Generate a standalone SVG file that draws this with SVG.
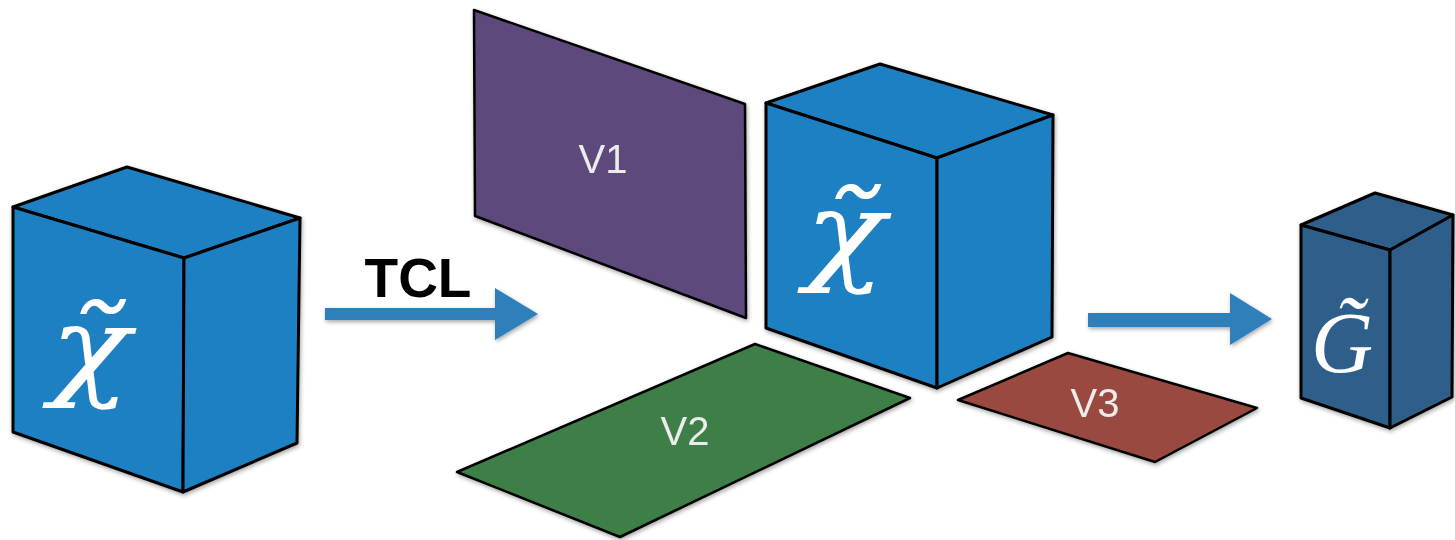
<svg xmlns="http://www.w3.org/2000/svg" width="1455" height="540" viewBox="0 0 1455 540">
  <defs>
    <filter id="sh" x="-10%" y="-10%" width="130%" height="130%">
      <feDropShadow dx="1" dy="2" stdDeviation="2" flood-color="#000" flood-opacity="0.35"/>
    </filter>
    <style>
      .cube { fill: #1f80c2; stroke: #000; stroke-width: 3; stroke-linejoin: round; }
      .cubeD { fill: #2e5f8b; stroke: #000; stroke-width: 3; stroke-linejoin: round; }
      .plane { stroke: #000; stroke-width: 2.5; stroke-linejoin: round; }
      .arrow { fill: #2f7fba; }
      .math { font-family: "Liberation Serif", "DejaVu Serif", serif; font-style: italic; fill: #fff; text-anchor: middle; }
      .chi { font-family: "DejaVu Serif", serif; font-style: italic; fill: #fff; text-anchor: middle; }
      .vlab { font-family: "Liberation Sans", Arial, sans-serif; font-size: 40px; fill: #ececec; text-anchor: middle; }
      .tcl { font-family: "Liberation Sans", Arial, sans-serif; font-size: 55px; font-weight: bold; fill: #000; text-anchor: middle; }
    </style>
  </defs>
  <rect width="1455" height="540" fill="#fff"/>

  <g id="cube-left" filter="url(#sh)">
    <polygon class="cube" points="13,207 127,167 300,218 184,258"/>
    <polygon class="cube" points="13,207 184,258 183,492 13,432"/>
    <polygon class="cube" points="184,258 300,218 297,443 183,492"/>
    <text class="chi" x="90" y="385" font-size="110" transform="translate(90 0) scale(1.2 1) translate(-90 0)">χ̃</text>
  </g>

  <g id="plane-v1" filter="url(#sh)">
    <polygon class="plane" fill="#5d4a7b" points="474,10 745,104 746,318 475,216"/>
    <text class="vlab" x="603" y="173">V1</text>
  </g>

  <g id="plane-v2" filter="url(#sh)">
    <polygon class="plane" fill="#3e7f46" points="457,472 755,344 910,398 620,537"/>
    <text class="vlab" x="685" y="445">V2</text>
  </g>

  <g id="cube-middle" filter="url(#sh)">
    <polygon class="cube" points="766,103 880,64 1053,115 937,158"/>
    <polygon class="cube" points="766,103 937,158 937,388 766,328"/>
    <polygon class="cube" points="937,158 1053,115 1052,337 937,388"/>
    <text class="chi" x="845" y="270" font-size="110" transform="translate(845 0) scale(1.2 1) translate(-845 0)">χ̃</text>
  </g>

  <g id="plane-v3" filter="url(#sh)">
    <polygon class="plane" fill="#9a4a3f" points="958,400 1068,353 1257,408 1155,462"/>
    <text class="vlab" x="1095" y="417">V3</text>
  </g>

  <g id="cube-g" filter="url(#sh)">
    <polygon class="cubeD" points="1301,225 1375,193 1453,215 1390,250"/>
    <polygon class="cubeD" points="1301,225 1390,250 1390,428 1301,398"/>
    <polygon class="cubeD" points="1390,250 1453,215 1452,397 1390,428"/>
    <text class="math" x="1342" y="372" font-size="86">G̃</text>
  </g>

  <g id="connectors" filter="url(#sh)">
    <polygon class="arrow" points="325,308 495,308 495,288 538,314 495,340 495,320 325,320"/>
    <polygon class="arrow" points="1088,313 1230,313 1230,293 1272,319 1230,345 1230,327 1088,327"/>
  </g>
  <text class="tcl" x="418" y="297">TCL</text>
</svg>
